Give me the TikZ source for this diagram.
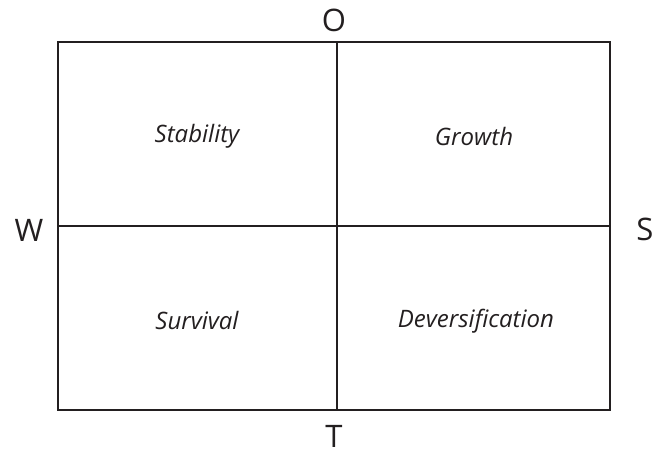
\documentclass[tikz,border=0pt]{standalone}
\usepackage{fontspec}
\setmainfont{Open Sans}
\definecolor{ink}{HTML}{231F20}
\begin{document}
\begin{tikzpicture}[x=1pt,y=-1pt,
  frame/.style={draw=ink,line width=2pt},
  axis/.style={text=ink,font=\fontsize{31}{36}\selectfont,inner sep=0pt},
  quad/.style={text=ink,font=\fontsize{24}{28}\selectfont\itshape,inner sep=0pt}]
\useasboundingbox (0,0) rectangle (654,450);
\coordinate (tl) at (58,42);
\coordinate (br) at (610,410);
\coordinate (mt) at (337,42);
\coordinate (mb) at (337,410);
\coordinate (ml) at (58,226);
\coordinate (mr) at (610,226);
\draw[frame] (tl) rectangle (br);
\draw[frame] (mt) -- (mb);
\draw[frame] (ml) -- (mr);
\node[axis] (o) at (334,20) {O};
\node[axis] (t) at (334,436) {T};
\node[axis] (w) at (29,230) {W};
\node[axis] (s) at (645,229) {S};
\node[quad] (stab) at (197,136) {Stability};
\node[quad] (grow) at (474,136) {Growth};
\node[quad] (surv) at (197,320) {Survival};
\node[quad] (div) at (476,321) {Deversification};
\end{tikzpicture}
\end{document}
